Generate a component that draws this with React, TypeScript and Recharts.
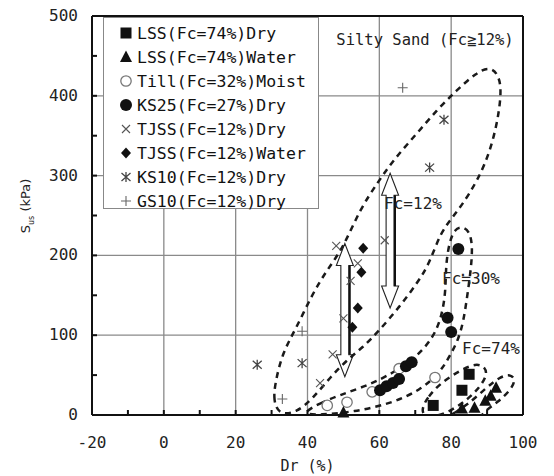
import React from "react";
import { ComposedChart, Scatter, XAxis, YAxis, ReferenceLine } from "recharts";

type Pt = { dr: number; s: number };

// axis ticks (minor every 10 / 50, labelled every 20 / 100)
const xTicks = [-20, -10, 0, 10, 20, 30, 40, 50, 60, 70, 80, 90, 100];
const yTicks = [0, 50, 100, 150, 200, 250, 300, 350, 400, 450, 500];
const gridX = [0, 20, 40, 60, 80];
const gridY = [100, 200, 300, 400];

// measured points, Dr (%) vs S (kPa)
const lssDry: Pt[] = [
  { dr: 75, s: 12 },
  { dr: 83, s: 31 },
  { dr: 85, s: 51 },
];
const lssWater: Pt[] = [
  { dr: 50, s: 3 },
  { dr: 83, s: 8 },
  { dr: 86.5, s: 9 },
  { dr: 89.5, s: 18 },
  { dr: 91, s: 24 },
  { dr: 92.5, s: 34 },
];
const tillMoist: Pt[] = [
  { dr: 45.5, s: 12 },
  { dr: 51, s: 16 },
  { dr: 58, s: 29 },
  { dr: 65.5, s: 58 },
  { dr: 75.5, s: 47 },
];
const ks25Dry: Pt[] = [
  { dr: 60.2, s: 31 },
  { dr: 62, s: 36 },
  { dr: 63.8, s: 40 },
  { dr: 65.5, s: 45 },
  { dr: 67.4, s: 61 },
  { dr: 69, s: 66 },
  { dr: 79, s: 122 },
  { dr: 80, s: 104 },
  { dr: 82, s: 208 },
];
const tjssDry: Pt[] = [
  { dr: 43.5, s: 40 },
  { dr: 47, s: 76 },
  { dr: 50, s: 121 },
  { dr: 52, s: 168 },
  { dr: 54, s: 190 },
  { dr: 48, s: 212 },
  { dr: 61.5, s: 219 },
];
const tjssWater: Pt[] = [
  { dr: 52.5, s: 110 },
  { dr: 54, s: 134 },
  { dr: 55, s: 179 },
  { dr: 55.5, s: 209 },
];
const ks10Dry: Pt[] = [
  { dr: 26, s: 63 },
  { dr: 38.5, s: 65 },
  { dr: 74, s: 310 },
  { dr: 78, s: 370 },
];
const gs10Dry: Pt[] = [
  { dr: 33, s: 20 },
  { dr: 38.5, s: 105 },
  { dr: 66.5, s: 410 },
];

// dashed envelopes
const zoneFc12: Pt[] = [
  { dr: 32, s: 0 }, { dr: 30.5, s: 19 }, { dr: 31, s: 40 }, { dr: 33, s: 78 },
  { dr: 37, s: 110 }, { dr: 41.5, s: 153 }, { dr: 45.5, s: 182 }, { dr: 50, s: 210 },
  { dr: 54.5, s: 257 }, { dr: 59.5, s: 291 }, { dr: 64, s: 320 }, { dr: 70.5, s: 353 },
  { dr: 76, s: 382 }, { dr: 81.5, s: 407 }, { dr: 87, s: 429 }, { dr: 91, s: 437 },
  { dr: 93.5, s: 424 }, { dr: 94, s: 401 }, { dr: 92.5, s: 357 }, { dr: 89.5, s: 313 },
  { dr: 85, s: 276 }, { dr: 81, s: 251 }, { dr: 77, s: 229 }, { dr: 74, s: 190 },
  { dr: 70.5, s: 165 }, { dr: 65.5, s: 135 }, { dr: 60, s: 106 }, { dr: 55.5, s: 85 },
  { dr: 51, s: 69 }, { dr: 46.5, s: 48 }, { dr: 41.5, s: 21 }, { dr: 37, s: 3 },
];
const zoneFc30: Pt[] = [
  { dr: 38, s: 1 }, { dr: 43.5, s: 15 }, { dr: 49, s: 25 }, { dr: 55.5, s: 35 },
  { dr: 62, s: 48 }, { dr: 69.5, s: 69 }, { dr: 75, s: 96 }, { dr: 77.5, s: 125 },
  { dr: 78.5, s: 157 }, { dr: 78.5, s: 188 }, { dr: 79.5, s: 217 }, { dr: 81, s: 233 },
  { dr: 83, s: 236 }, { dr: 85, s: 231 }, { dr: 86, s: 213 }, { dr: 85.5, s: 182 },
  { dr: 84.5, s: 150 }, { dr: 83.5, s: 119 }, { dr: 82, s: 94 }, { dr: 79.5, s: 73 },
  { dr: 77, s: 54 }, { dr: 71.5, s: 31 }, { dr: 63, s: 14 }, { dr: 53, s: 4 },
  { dr: 43.5, s: 0 },
];
const zoneFc74: Pt[] = [
  { dr: 72, s: 10 }, { dr: 73.5, s: 22.5 }, { dr: 77, s: 40 }, { dr: 82.5, s: 56 },
  { dr: 87, s: 65 }, { dr: 89.5, s: 60 }, { dr: 90, s: 50 }, { dr: 88, s: 35 },
  { dr: 84.5, s: 19 }, { dr: 79.5, s: 4 }, { dr: 75, s: -3 }, { dr: 72, s: 0 },
];
const zoneLssWater: Pt[] = [
  { dr: 78.5, s: -6 }, { dr: 80.5, s: 2 }, { dr: 84.5, s: 12.5 }, { dr: 90, s: 35 },
  { dr: 93.5, s: 47.5 }, { dr: 96.5, s: 51.5 }, { dr: 98, s: 44 }, { dr: 96.5, s: 31 },
  { dr: 93, s: 16 }, { dr: 89, s: 4 }, { dr: 88, s: -6 }, { dr: 80.5, s: -15 },
];

// double-headed hollow arrows (Dr, top S, bottom S)
const arrowLeft = { dr: 50.4, top: 215, bottom: 48 };
const arrowRight = { dr: 63, top: 303, bottom: 134 };

const ink = "#111";
const font = "'DejaVu Sans Mono', monospace";

const Square = ({ cx, cy }: any) => <rect x={cx - 5.5} y={cy - 5.5} width={11} height={11} fill={ink} />;
const Triangle = ({ cx, cy }: any) => (
  <path d={`M${cx},${cy - 6.5}L${cx + 6},${cy + 5}L${cx - 6},${cy + 5}Z`} fill={ink} />
);
const OpenCircle = ({ cx, cy }: any) => (
  <circle cx={cx} cy={cy} r={5.2} fill="#fff" stroke="#777" strokeWidth={1.3} />
);
const Dot = ({ cx, cy }: any) => <circle cx={cx} cy={cy} r={6} fill={ink} />;
const Cross = ({ cx, cy }: any) => (
  <path d={`M${cx - 4},${cy - 4}L${cx + 4},${cy + 4}M${cx - 4},${cy + 4}L${cx + 4},${cy - 4}`} stroke="#555" strokeWidth={1.1} />
);
const Diamond = ({ cx, cy }: any) => (
  <path d={`M${cx},${cy - 5.5}L${cx + 5},${cy}L${cx},${cy + 5.5}L${cx - 5},${cy}Z`} fill={ink} />
);
const Asterisk = ({ cx, cy }: any) => (
  <path
    d={`M${cx - 4.5},${cy - 4}L${cx + 4.5},${cy + 4}M${cx - 4.5},${cy + 4}L${cx + 4.5},${cy - 4}M${cx},${cy - 5}L${cx},${cy + 5}`}
    stroke="#444"
    strokeWidth={1.3}
  />
);
const Plus = ({ cx, cy }: any) => (
  <path d={`M${cx - 5},${cy}L${cx + 5},${cy}M${cx},${cy - 5}L${cx},${cy + 5}`} stroke="#666" strokeWidth={1.1} />
);
const NoMark = () => <g />;

const legendRows = [
  { label: "LSS(Fc=74%)Dry", Mark: Square },
  { label: "LSS(Fc=74%)Water", Mark: Triangle },
  { label: "Till(Fc=32%)Moist", Mark: OpenCircle },
  { label: "KS25(Fc=27%)Dry", Mark: Dot },
  { label: "TJSS(Fc=12%)Dry", Mark: Cross },
  { label: "TJSS(Fc=12%)Water", Mark: Diamond },
  { label: "KS10(Fc=12%)Dry", Mark: Asterisk },
  { label: "GS10(Fc=12%)Dry", Mark: Plus },
];

const XTick = ({ x, y, payload }: any) => (
  <g>
    <line x1={x} x2={x} y1={y} y2={y - 5} stroke={ink} strokeWidth={2} />
    {payload.value % 20 === 0 && (
      <text x={x} y={y + 33} textAnchor="middle" fontSize={16} fill="#222" fontFamily={font}>
        {payload.value}
      </text>
    )}
  </g>
);

const YTick = ({ x, y, payload }: any) => (
  <g>
    <line x1={x} x2={x + 5} y1={y} y2={y} stroke={ink} strokeWidth={2} />
    {payload.value % 100 === 0 && (
      <text x={x - 14} y={y + 5} textAnchor="end" fontSize={16} fill="#222" fontFamily={font}>
        {payload.value}
      </text>
    )}
  </g>
);

const DoubleArrow = ({ x1, y1, y2 }: any) => {
  const x = x1;
  const hl = 22;
  const hh = 8.5;
  const sh = 4;
  const pts = [
    [x, y1], [x + hh, y1 + hl], [x + sh, y1 + hl], [x + sh, y2 - hl], [x + hh, y2 - hl],
    [x, y2], [x - hh, y2 - hl], [x - sh, y2 - hl], [x - sh, y1 + hl], [x - hh, y1 + hl],
  ];
  return (
    <g>
      <polygon points={pts.map((p) => p.join(",")).join(" ")} fill="#fff" stroke="#222" strokeWidth={1.1} />
      <line x1={x + sh + 0.8} x2={x + sh + 0.8} y1={y1 + hl} y2={y2 - hl} stroke="#111" strokeWidth={2.2} />
    </g>
  );
};

const zoneLine = { stroke: "#1a1a1a", strokeWidth: 2.5, strokeDasharray: "6 5" };

const noteStyle: React.CSSProperties = {
  position: "absolute",
  transform: "translate(-50%, -50%)",
  fontFamily: font,
  fontSize: 16,
  color: "#222",
  whiteSpace: "nowrap",
};

export default function App() {
  return (
    <div style={{ position: "absolute", left: 0, top: 0, width: 554, height: 476, background: "#fff" }}>
      <ComposedChart width={554} height={476} margin={{ top: 16, right: 31, left: 0, bottom: 0 }}>
        <XAxis
          dataKey="dr"
          type="number"
          domain={[-20, 100]}
          ticks={xTicks}
          interval={0}
          tickSize={0}
          tickMargin={0}
          tickLine={false}
          tick={<XTick />}
          height={61}
          axisLine={{ stroke: ink, strokeWidth: 2 }}
          label={{
            content: ({ viewBox }: any) => (
              <text x={viewBox.x + viewBox.width / 2} y={viewBox.y + 56} textAnchor="middle" fontSize={15} fill="#222" fontFamily={font}>
                Dr (%)
              </text>
            ),
          }}
        />
        <YAxis
          dataKey="s"
          type="number"
          domain={[0, 500]}
          ticks={yTicks}
          interval={0}
          tickSize={0}
          tickMargin={0}
          tickLine={false}
          tick={<YTick />}
          width={92}
          axisLine={{ stroke: ink, strokeWidth: 2 }}
          label={{
            content: ({ viewBox }: any) => {
              const cx = viewBox.x + 30;
              const cy = viewBox.y + 190;
              return (
                <text transform={`translate(${cx},${cy}) rotate(-90)`} textAnchor="middle" fontSize={13} fill="#222" fontFamily="'DejaVu Sans', sans-serif">
                  S<tspan fontSize={8} dy={4}>us</tspan>
                  <tspan dy={-4}> (kPa)</tspan>
                </text>
              );
            },
          }}
        />
        <YAxis yAxisId="zone" dataKey="s" type="number" domain={[0, 500]} allowDataOverflow hide />

        {gridX.map((v) => (
          <ReferenceLine key={`gx${v}`} x={v} stroke="#8a8a8a" strokeWidth={1.3} />
        ))}
        {gridY.map((v) => (
          <ReferenceLine key={`gy${v}`} y={v} stroke="#8a8a8a" strokeWidth={1.3} />
        ))}
        <ReferenceLine x={100} stroke={ink} strokeWidth={2} />
        <ReferenceLine y={500} stroke={ink} strokeWidth={2} />

        {[zoneFc12, zoneFc30, zoneFc74, zoneLssWater].map((z, i) => (
          <Scatter
            key={`zone${i}`}
            yAxisId="zone"
            data={z}
            line={zoneLine}
            lineType="joint"
            lineJointType="basisClosed"
            shape={NoMark}
            legendType="none"
            isAnimationActive={false}
          />
        ))}

        {[arrowLeft, arrowRight].map((a, i) => (
          <ReferenceLine
            key={`arrow${i}`}
            segment={[
              { x: a.dr, y: a.top },
              { x: a.dr, y: a.bottom },
            ]}
            shape={DoubleArrow}
          />
        ))}

        <Scatter data={gs10Dry} shape={Plus} isAnimationActive={false} />
        <Scatter data={ks10Dry} shape={Asterisk} isAnimationActive={false} />
        <Scatter data={tjssDry} shape={Cross} isAnimationActive={false} />
        <Scatter data={tillMoist} shape={OpenCircle} isAnimationActive={false} />
        <Scatter data={tjssWater} shape={Diamond} isAnimationActive={false} />
        <Scatter data={ks25Dry} shape={Dot} isAnimationActive={false} />
        <Scatter data={lssWater} shape={Triangle} isAnimationActive={false} />
        <Scatter data={lssDry} shape={Square} isAnimationActive={false} />
      </ComposedChart>

      <div
        style={{
          position: "absolute",
          left: 103,
          top: 17,
          width: 216,
          height: 192,
          border: "1px solid #888",
          background: "#fff",
          boxSizing: "border-box",
          paddingTop: 3,
        }}
      >
        {legendRows.map(({ label, Mark }) => (
          <div key={label} style={{ display: "flex", alignItems: "center", height: 24 }}>
            <svg width={14} height={14} style={{ marginLeft: 15, marginRight: 4 }}>
              <Mark cx={7} cy={7} />
            </svg>
            <span style={{ fontFamily: font, fontSize: 16.5, color: "#111", whiteSpace: "nowrap" }}>{label}</span>
          </div>
        ))}
      </div>

      <div style={{ ...noteStyle, left: 425, top: 40, fontSize: 15.5 }}>Silty Sand (Fc≧12%)</div>
      <div style={{ ...noteStyle, left: 413, top: 203 }}>Fc=12%</div>
      <div style={{ ...noteStyle, left: 471, top: 278 }}>Fc≒30%</div>
      <div style={{ ...noteStyle, left: 491, top: 348 }}>Fc=74%</div>
    </div>
  );
}
